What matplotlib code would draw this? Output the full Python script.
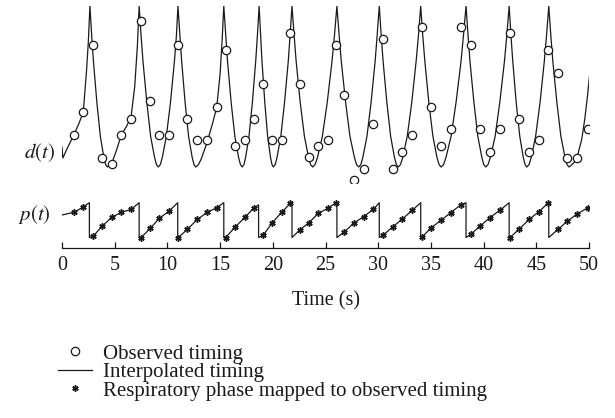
import numpy as np
import matplotlib
matplotlib.use("Agg")
import matplotlib.pyplot as plt

plt.rcParams["font.family"] = ["Liberation Serif", "DejaVu Serif"]
plt.rcParams["mathtext.fontset"] = "stix"

# Observed timing (circles) and respiratory phase (stars)
obs_t = [1.14, 2.02, 2.97, 3.83, 4.74, 5.63, 6.55, 7.50, 8.38, 9.23,
         10.18, 11.04, 11.89, 12.84, 13.79, 14.68, 15.53, 16.44, 17.36, 18.22,
         19.10, 19.96, 20.84, 21.66, 22.55, 23.43, 24.32, 25.20, 26.00, 26.79,
         27.67, 28.62, 29.54, 30.48, 31.37, 32.29, 33.24, 34.18, 35.04, 35.99,
         36.87, 37.83, 38.78, 39.66, 40.58, 41.56, 42.50, 43.36, 44.31, 45.26,
         46.14, 47.06, 47.94, 48.86, 49.88]
obs_d = [0.20, 0.34, 0.76, 0.058, 0.02, 0.20, 0.30, 0.905, 0.41, 0.20,
         0.20, 0.76, 0.30, 0.166, 0.166, 0.375, 0.727, 0.13, 0.166, 0.30,
         0.515, 0.166, 0.166, 0.83, 0.515, 0.06, 0.13, 0.166, 0.76, 0.445,
         -0.083, -0.014, 0.267, 0.797, -0.014, 0.093, 0.20, 0.868, 0.375, 0.13,
         0.234, 0.868, 0.76, 0.234, 0.093, 0.234, 0.83, 0.30, 0.093, 0.166,
         0.727, 0.585, 0.058, 0.058, 0.234]
obs_p = [0.71, 0.86, 0.04, 0.33, 0.57, 0.71, 0.79, 0.00, 0.26, 0.54,
         0.75, 0.00, 0.23, 0.51, 0.71, 0.84, 0.00, 0.30, 0.57, 0.84,
         0.07, 0.42, 0.71, 0.96, 0.21, 0.42, 0.68, 0.82, 0.98, 0.16,
         0.40, 0.59, 0.79, 0.07, 0.30, 0.52, 0.77, 0.02, 0.28, 0.49,
         0.70, 0.92, 0.09, 0.32, 0.56, 0.77, 0.00, 0.23, 0.51, 0.73,
         0.98, 0.23, 0.46, 0.66, 0.84]

# Phase resets (sawtooth drops)
reset_t = [2.60, 7.32, 10.98, 15.35, 18.65, 21.82, 26.08, 30.10, 34.03, 38.33, 42.42, 46.18]
reset_top = [0.98, 0.98, 0.98, 0.98, 0.92, 0.98, 0.98, 0.98, 0.98, 0.98, 0.98, 0.98]
p_start = (0.0, 0.634)

# Interpolated d(t) curve
curve_t = [0.00, 0.08, 0.60, 1.14, 1.60, 2.02, 2.33, 2.50, 2.65,
           2.815, 2.98, 3.31, 3.64, 3.97, 4.135, 4.30,
           4.74, 5.20, 5.63, 6.10, 6.55, 6.90, 7.15, 7.32,
           7.50, 7.68, 8.05, 8.41, 8.78, 8.96, 9.14,
           9.33, 9.52, 9.90, 10.29, 10.67, 10.86, 11.00,
           11.18, 11.35, 11.68, 12.01, 12.35, 12.52, 12.68,
           12.95, 13.21, 13.75, 14.28, 14.68, 15.00, 15.20, 15.35,
           15.53, 15.70, 16.05, 16.40, 16.75, 16.93, 17.10,
           17.26, 17.42, 17.74, 18.06, 18.38, 18.54, 18.70,
           18.84, 18.97, 19.24, 19.51, 19.78, 19.92, 20.05,
           20.23, 20.40, 20.76, 21.11, 21.47, 21.64, 21.82,
           22.02, 22.21, 22.60, 23.00, 23.39, 23.58, 23.78,
           24.01, 24.24, 24.70, 25.16, 25.62, 25.85, 26.08,
           26.29, 26.49, 26.91, 27.32, 27.74, 27.94, 28.15,
           28.35, 28.54, 28.93, 29.32, 29.71, 29.90, 30.10,
           30.28, 30.46, 30.82, 31.18, 31.54, 31.72, 31.90,
           32.11, 32.33, 32.75, 33.18, 33.60, 33.82, 34.03,
           34.22, 34.42, 34.80, 35.19, 35.57, 35.77, 35.96,
           36.20, 36.43, 36.91, 37.38, 37.86, 38.09, 38.33,
           38.52, 38.70, 39.08, 39.45, 39.83, 40.01, 40.20,
           40.42, 40.64, 41.09, 41.53, 41.98, 42.20, 42.42,
           42.59, 42.76, 43.09, 43.43, 43.76, 43.93, 44.10,
           44.31, 44.52, 44.93, 45.35, 45.76, 45.97, 46.18,
           46.37, 46.56, 46.95, 47.33, 47.72, 47.91, 48.10,
           48.30, 48.60, 48.90, 49.30, 49.60, 49.85, 50.05]
curve_d = [0.124, 0.056, 0.13, 0.20, 0.27, 0.34, 0.60, 0.78, 1.0,
           0.82, 0.66, 0.40, 0.19, 0.06, 0.015, 0.0,
           0.025, 0.11, 0.20, 0.25, 0.31, 0.50, 0.75, 1.0,
           0.82, 0.66, 0.40, 0.19, 0.06, 0.015, 0.0,
           0.015, 0.06, 0.19, 0.40, 0.66, 0.82, 1.0,
           0.82, 0.66, 0.40, 0.19, 0.06, 0.015, 0.0,
           0.015, 0.05, 0.15, 0.27, 0.37, 0.58, 0.80, 1.0,
           0.82, 0.66, 0.40, 0.19, 0.06, 0.015, 0.0,
           0.015, 0.06, 0.19, 0.40, 0.66, 0.82, 1.0,
           0.82, 0.66, 0.40, 0.19, 0.06, 0.015, 0.0,
           0.015, 0.06, 0.19, 0.40, 0.66, 0.82, 1.0,
           0.82, 0.66, 0.40, 0.19, 0.06, 0.015, 0.0,
           0.015, 0.06, 0.19, 0.40, 0.66, 0.82, 1.0,
           0.82, 0.66, 0.40, 0.19, 0.06, 0.015, 0.0,
           0.015, 0.06, 0.19, 0.40, 0.66, 0.82, 1.0,
           0.82, 0.66, 0.40, 0.19, 0.06, 0.015, 0.0,
           0.015, 0.06, 0.19, 0.40, 0.66, 0.82, 1.0,
           0.82, 0.66, 0.40, 0.19, 0.06, 0.015, 0.0,
           0.015, 0.06, 0.19, 0.40, 0.66, 0.82, 1.0,
           0.82, 0.66, 0.40, 0.19, 0.06, 0.015, 0.0,
           0.015, 0.06, 0.19, 0.40, 0.66, 0.82, 1.0,
           0.82, 0.66, 0.40, 0.19, 0.06, 0.015, 0.0,
           0.015, 0.06, 0.19, 0.40, 0.66, 0.82, 1.0,
           0.82, 0.66, 0.40, 0.19, 0.06, 0.015, 0.0,
           0.01, 0.03, 0.07, 0.17, 0.30, 0.44, 0.57]

xticks = [0, 5, 10, 15, 20, 25, 30, 35, 40, 45, 50]

ink = "#1a1a1a"
fs = 14.5

fig = plt.figure(figsize=(6.15, 4.18), dpi=100)
ax_d = fig.add_axes([0.1008, 0.562, 0.857, 0.4234])
ax_p = fig.add_axes([0.1008, 0.4063, 0.857, 0.1147])

# d(t) panel
line_d, = ax_d.plot(curve_t, curve_d, color=ink, lw=0.9)
circ, = ax_d.plot(obs_t, obs_d, linestyle="none", marker="o", ms=6,
                  mfc="white", mec=ink, mew=0.9)
ax_d.set_xlim(0, 50)
ax_d.set_ylim(-0.1, 1.0)
ax_d.axis("off")

# p(t) panel: sawtooth through the stars, dropping at each reset
all_t = np.concatenate([[p_start[0]], obs_t, reset_t, reset_t])
all_p = np.concatenate([[p_start[1]], obs_p, reset_top, np.zeros(len(reset_t))])
order = np.argsort(all_t, kind="stable")
ax_p.plot(all_t[order], all_p[order], color=ink, lw=0.9)
stars, = ax_p.plot(obs_t, obs_p, linestyle="none", marker=(6, 2, 0), ms=4.5,
                   mec=ink, mew=1.1)
ax_p.set_xlim(0, 50)
ax_p.set_ylim(-0.3, 1.05)
for s in ["top", "right", "left"]:
    ax_p.spines[s].set_visible(False)
ax_p.spines["bottom"].set_color(ink)
ax_p.spines["bottom"].set_linewidth(0.9)
ax_p.set_yticks([])
ax_p.set_xticks(xticks)
ax_p.tick_params(axis="x", direction="in", length=4, width=0.9, color=ink,
                 pad=6, labelsize=fs, labelcolor=ink)
ax_p.set_xlabel("Time (s)", fontsize=fs, color=ink, labelpad=11)

fig.text(55 / 615, 1 - 153 / 418, "$d(t)$", fontsize=15, ha="right", va="center", color=ink)
fig.text(51 / 615, 1 - 215 / 418, "$p(t)$", fontsize=15, ha="right", va="center", color=ink)

fig.legend([circ, line_d, stars],
           ["Observed timing", "Interpolated timing",
            "Respiratory phase mapped to observed timing"],
           loc="upper left", bbox_to_anchor=(58 / 615, 1 - 344 / 418),
           frameon=False, fontsize=15, handlelength=1.65, handletextpad=0.52,
           labelspacing=-0.05, borderpad=0, borderaxespad=0, labelcolor=ink)

fig.savefig("out.png", dpi=100)
